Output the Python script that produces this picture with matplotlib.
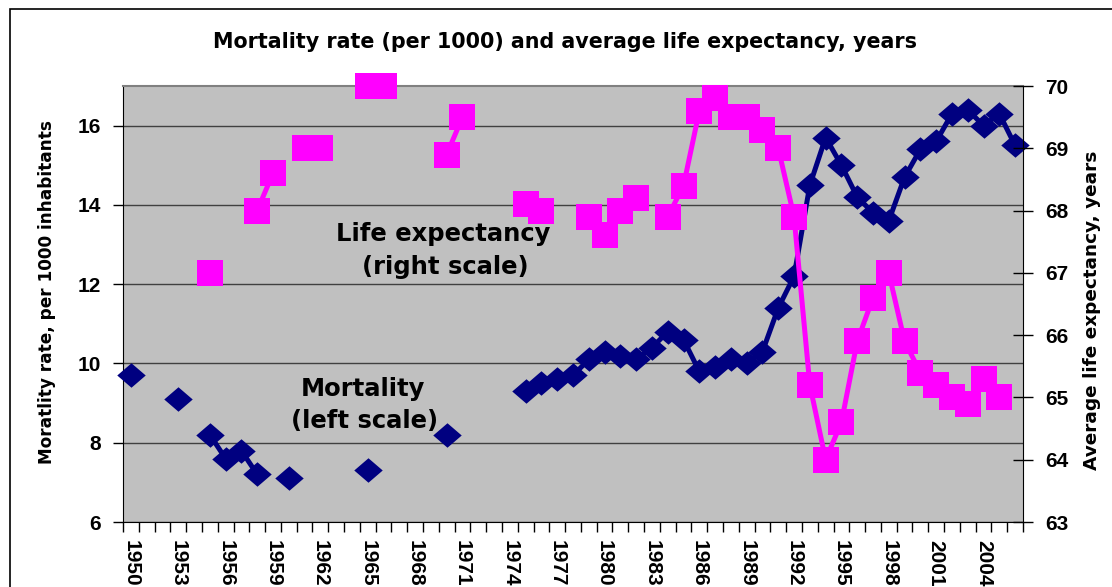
import numpy as np
import matplotlib
matplotlib.use("Agg")
import matplotlib.pyplot as plt
from matplotlib.patches import Rectangle
from matplotlib.path import Path

nan = np.nan

# categories
years = list(range(1950, 2007))

# mortality rate, per 1000 inhabitants (left scale)
mortality = [9.7, nan, nan, 9.1, nan, 8.2, 7.6, 7.8, 7.2, nan,
             7.1, nan, nan, nan, nan, 7.3, nan, nan, nan, nan,
             8.2, nan, nan, nan, nan, 9.3, 9.5, 9.6, 9.7, 10.1,
             10.3, 10.2, 10.1, 10.4, 10.8, 10.6, 9.8, 9.9, 10.1, 10.0,
             10.3, 11.4, 12.2, 14.5, 15.7, 15.0, 14.2, 13.8, 13.6, 14.7,
             15.4, 15.6, 16.3, 16.4, 16.0, 16.3, 15.5]

# average life expectancy, years (right scale)
life_exp = [nan, nan, nan, nan, nan, 67.0, nan, nan, 68.0, 68.6,
            nan, 69.0, 69.0, nan, nan, 70.0, 70.0, nan, nan, nan,
            68.9, 69.5, nan, nan, nan, 68.1, 68.0, nan, nan, 67.9,
            67.6, 68.0, 68.2, nan, 67.9, 68.4, 69.6, 69.8, 69.5, 69.5,
            69.3, 69.0, 67.9, 65.2, 64.0, 64.6, 65.9, 66.6, 67.0, 65.9,
            65.4, 65.2, 65.0, 64.9, 65.3, 65.0, nan]

W, H = 1112, 587
fig = plt.figure(figsize=(W / 100, H / 100), dpi=100)
plt.rcParams['font.family'] = ['Liberation Sans', 'DejaVu Sans']

def fx(px):
    return px / W

def fy(py):
    return 1 - py / H

# outer chart border (cut off at right/bottom like the reference)
fig.patches.append(Rectangle((fx(10), -0.1), 2, fy(9) + 0.1, transform=fig.transFigure,
                             fill=False, edgecolor='black', lw=1.2))

# Excel-like diamond, a bit wider than tall
diamond = Path([(-1, 0), (0, -0.86), (1, 0), (0, 0.86), (-1, 0)],
               [Path.MOVETO, Path.LINETO, Path.LINETO, Path.LINETO, Path.CLOSEPOLY])

ax = fig.add_axes([fx(123), fy(522), fx(1023) - fx(123), fy(86) - fy(522)])
ax.set_facecolor('#C0C0C0')
x = np.arange(len(years))

ax.plot(x, mortality, color='#000080', lw=3.6, marker=diamond, markersize=20.5,
        markeredgewidth=0, zorder=3, clip_on=False)
ax.set_xlim(-0.5, len(years) - 0.5)
ax.set_ylim(6, 17)
ax.set_yticks([6, 8, 10, 12, 14, 16])
ax.yaxis.grid(True, color='#404040', lw=1)
ax.set_axisbelow(True)

ax.set_xticks(np.arange(-0.5, len(years), 1))
ax.set_xticklabels([])
ax.set_xticks(x[::3], minor=True)
ax.set_xticklabels([str(y) for y in years[::3]], minor=True, rotation=270,
                   fontsize=15, fontweight='bold')
ax.tick_params(axis='x', which='major', length=7, width=1, direction='out')
ax.tick_params(axis='x', which='minor', length=0, pad=13)
ax.tick_params(axis='y', length=7, width=1, direction='out', pad=9,
               labelsize=15)
for lab in ax.get_yticklabels():
    lab.set_fontweight('bold')
ax.spines['top'].set_color('#808080')
ax.spines['top'].set_linewidth(1.5)
ax.spines['right'].set_visible(False)

ax2 = ax.twinx()
ax2.plot(x, life_exp, color='#FF00FF', lw=3.6, marker='s', markersize=18.5,
         markeredgewidth=0, zorder=4, clip_on=False)
ax2.set_ylim(63, 70)
ax2.set_yticks(range(63, 71))
ax2.tick_params(axis='y', length=14, width=1, direction='inout', pad=9,
                labelsize=15)
for lab in ax2.get_yticklabels():
    lab.set_fontweight('bold')
ax2.spines['top'].set_visible(False)
ax2.spines['left'].set_visible(False)
ax2.spines['bottom'].set_visible(False)

wide = ['DejaVu Sans']
fig.text(fx(565), fy(42), "Mortality rate (per 1000) and average life expectancy, years",
         ha='center', va='center', fontsize=14.9, fontweight='bold', family=wide)
fig.text(fx(47), fy(292), "Moratlity rate, per 1000 inhabitants", rotation=90,
         ha='center', va='center', fontsize=12.2, fontweight='bold', family=wide)
fig.text(fx(1092), fy(310), "Average life expectancy, years", rotation=90,
         ha='center', va='center', fontsize=13.3, fontweight='bold', family=wide)

fig.text(fx(443), fy(234), "Life expectancy", ha='center', va='center',
         fontsize=17.5, fontweight='bold', family=wide)
fig.text(fx(445), fy(267), "(right scale)", ha='center', va='center',
         fontsize=17.5, fontweight='bold', family=wide)
fig.text(fx(363), fy(389), "Mortality", ha='center', va='center',
         fontsize=17.5, fontweight='bold', family=wide)
fig.text(fx(365), fy(421), "(left scale)", ha='center', va='center',
         fontsize=17.5, fontweight='bold', family=wide)

fig.savefig("out.png", dpi=100)
